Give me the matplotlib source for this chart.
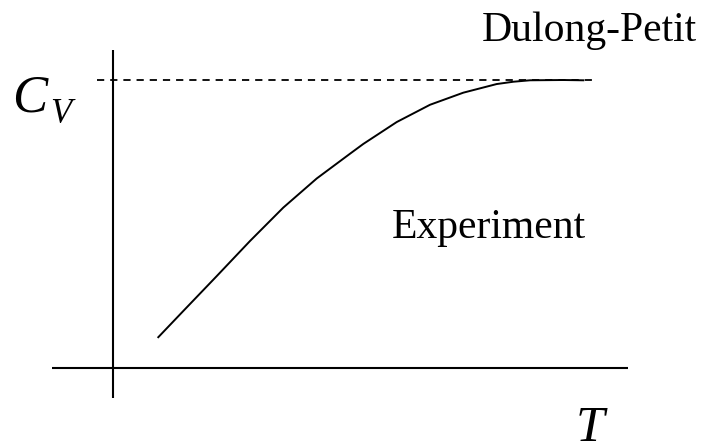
import matplotlib
matplotlib.use("Agg")
import matplotlib.pyplot as plt

# Experimental heat-capacity curve (T in arbitrary units, Cv normalised to Dulong-Petit = 1)
T_exp = [0.453, 0.703, 1.037, 1.370, 1.703, 2.037, 2.370, 2.503, 2.837, 3.170,
         3.503, 3.837, 4.003, 4.170, 4.503, 4.703]
Cv_exp = [0.107, 0.198, 0.319, 0.441, 0.557, 0.658, 0.744, 0.778, 0.854, 0.914,
          0.956, 0.986, 0.994, 0.999, 1.000, 0.999]

# Dulong-Petit limit
dp_value = 1.0
dp_T = [-0.16, 4.82]

# Axis line extents
x_axis_T = [-0.61, 5.15]
y_axis_Cv = [-0.104, 1.104]

labels = {"dp": "Dulong-Petit", "exp": "Experiment", "c": "C", "v": "V", "t": "T"}

W, H = 707, 446
fig = plt.figure(figsize=(W / 100, H / 100), dpi=100)
ax = fig.add_axes([0, 0, 1, 1])
ax.set_xlim(-1.13, 5.94)
ax.set_ylim(-0.2708, 1.2778)
ax.axis("off")

# axes lines
ax.plot(x_axis_T, [0, 0], color="black", lw=1.5, solid_capstyle="butt")
ax.plot([0, 0], y_axis_Cv, color="black", lw=1.5, solid_capstyle="butt")

# Dulong-Petit dashed line
ax.plot(dp_T, [dp_value, dp_value], color="black", lw=1.3, dashes=(4.0, 3.3))

# experiment curve
ax.plot(T_exp, Cv_exp, color="black", lw=1.4, solid_joinstyle="round")

serif = "Liberation Serif"
def px(x, y):
    return x / W, 1 - y / H

fig.text(*px(482, 41), labels["dp"], fontsize=30, family=serif, ha="left", va="baseline")
fig.text(*px(392, 238), labels["exp"], fontsize=30, family=serif, ha="left", va="baseline")
fig.text(*px(12, 111), labels["c"], fontsize=38, family=serif, style="italic",
         ha="left", va="baseline")
fig.text(*px(50, 123), labels["v"], fontsize=25, family=serif, style="italic",
         ha="left", va="baseline")
fig.text(*px(576, 441), labels["t"], fontsize=37, family=serif, style="italic",
         ha="left", va="baseline")

fig.savefig("out.png", dpi=100)
